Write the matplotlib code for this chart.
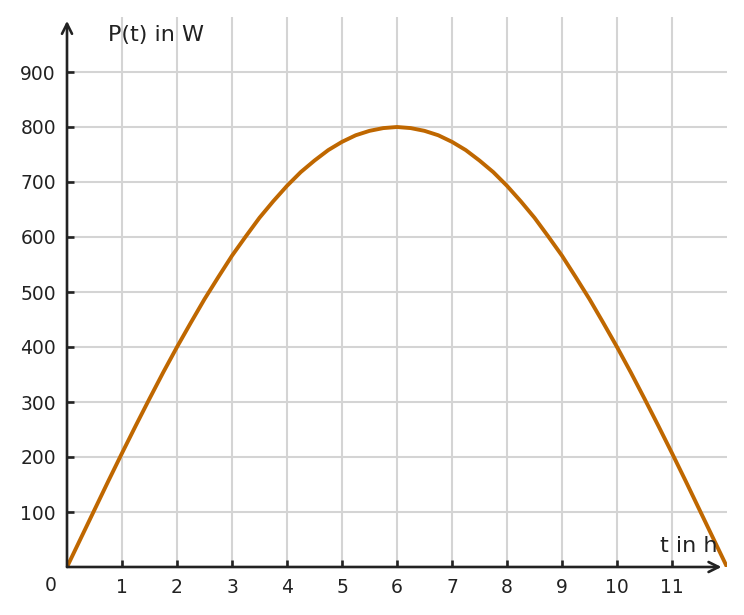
import matplotlib
matplotlib.use("Agg")
import matplotlib.pyplot as plt

# Values (hours, watts), every quarter hour
t_hours = [0, 0.25, 0.5, 0.75, 1, 1.25, 1.5, 1.75, 2, 2.25, 2.5, 2.75,
           3, 3.25, 3.5, 3.75, 4, 4.25, 4.5, 4.75, 5, 5.25, 5.5, 5.75,
           6, 6.25, 6.5, 6.75, 7, 7.25, 7.5, 7.75, 8, 8.25, 8.5, 8.75,
           9, 9.25, 9.5, 9.75, 10, 10.25, 10.5, 10.75, 11, 11.25, 11.5, 11.75, 12]
power_w = [0, 52, 104, 156, 207, 257, 306, 354, 400, 444, 487, 527,
           566, 601, 635, 665, 693, 718, 739, 758, 773, 785, 793, 798,
           800, 798, 793, 785, 773, 758, 739, 718, 693, 665, 635, 601,
           566, 527, 487, 444, 400, 354, 306, 257, 207, 156, 104, 52, 0]
x_ticks = [1, 2, 3, 4, 5, 6, 7, 8, 9, 10, 11]
y_ticks = [100, 200, 300, 400, 500, 600, 700, 800, 900]

W, H = 744, 615
fig = plt.figure(figsize=(W / 100, H / 100), dpi=100)
left, right, bottom, top = 67, 727, 567, 17
ax = fig.add_axes([left / W, (H - bottom) / H, (right - left) / W, (bottom - top) / H])
ax.set_xlim(0, 12)
ax.set_ylim(0, 1000)

for s in ax.spines.values():
    s.set_visible(False)

grid_c = "#d4d4d4"
for x in x_ticks:
    ax.axvline(x, color=grid_c, lw=1.5, zorder=1)
for y in y_ticks:
    ax.axhline(y, color=grid_c, lw=1.5, zorder=1)

ax.plot(t_hours, power_w, color="#bf6700", lw=2.8, zorder=3,
        solid_capstyle="butt", solid_joinstyle="round")

axis_c = "#222222"
ax.annotate("", xy=(11.9, 0), xytext=(0, 0),
            arrowprops=dict(arrowstyle="->", color=axis_c, lw=1.9, mutation_scale=18,
                            shrinkA=0, shrinkB=0), annotation_clip=False, zorder=4)
ax.annotate("", xy=(0, 993), xytext=(0, 0),
            arrowprops=dict(arrowstyle="->", color=axis_c, lw=1.9, mutation_scale=18,
                            shrinkA=0, shrinkB=0), annotation_clip=False, zorder=4)

ax.set_xticks(x_ticks)
ax.set_yticks(y_ticks)
ax.tick_params(axis="both", direction="in", length=5, width=1.9, color=axis_c,
               labelsize=13.5, labelcolor=axis_c)
ax.tick_params(axis="x", pad=8)
ax.tick_params(axis="y", pad=8)

ax.text(-0.3, -33, "0", ha="center", va="center", fontsize=13.5, color=axis_c)
ax.text(0.75, 967, "P(t) in W", ha="left", va="center", fontsize=16, color=axis_c)
ax.text(11.82, 38, "t in h", ha="right", va="center", fontsize=16, color=axis_c)

fig.savefig("out.png", dpi=100)
